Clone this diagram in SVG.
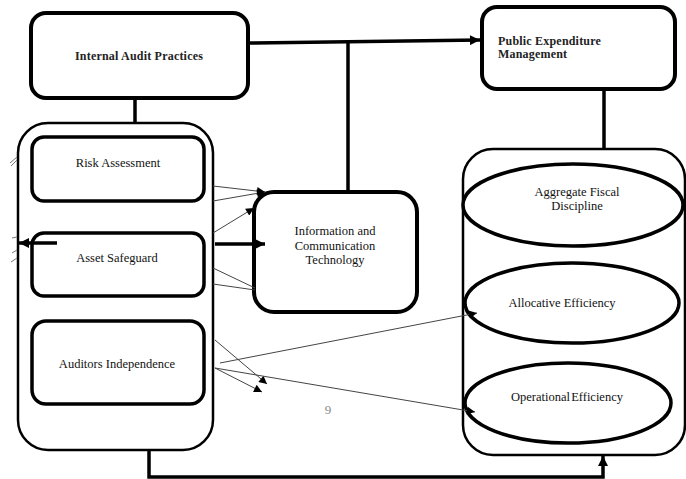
<svg xmlns="http://www.w3.org/2000/svg" width="686" height="479" viewBox="0 0 686 479">
<style>
.box{fill:#fff;stroke:#000;stroke-width:4}
.sub{fill:#fff;stroke:#000;stroke-width:3.5}
.cont{fill:#fff;stroke:#000;stroke-width:2.5}
.ell{fill:#fff;stroke:#000;stroke-width:3.5}
.t{font-family:'Liberation Serif','DejaVu Serif',serif;font-size:12.5px;fill:#111;text-anchor:middle}
.b{font-family:'Liberation Serif','DejaVu Serif',serif;font-size:12px;font-weight:bold;fill:#222;letter-spacing:0.2px}
.pg{font-family:'Liberation Serif','DejaVu Serif',serif;font-size:13px;fill:#888;text-anchor:middle}
.thick{fill:none;stroke:#000;stroke-width:3.5}
.thin{fill:none;stroke:#444;stroke-width:1}
.frag{fill:none;stroke:#777;stroke-width:1}
</style>
<defs>
<marker id="ah" viewBox="0 0 10 10" refX="10" refY="5" markerWidth="9" markerHeight="8" markerUnits="userSpaceOnUse" orient="auto"><path d="M0,0 L10,5 L0,10 z" fill="#000"/></marker>
<marker id="ahb" viewBox="0 0 10 10" refX="10" refY="5" markerWidth="11" markerHeight="10" markerUnits="userSpaceOnUse" orient="auto"><path d="M0,0 L10,5 L0,10 z" fill="#000"/></marker>
</defs>
<rect width="686" height="479" fill="#fff"/>
<g id="left-container"><rect class="cont" x="18" y="123" width="195" height="327" rx="30"/></g>
<g id="right-container"><rect class="cont" x="463" y="149" width="222" height="306" rx="30"/></g>
<g id="internal-audit"><rect class="box" x="31" y="13" width="217" height="85" rx="15"/><text class="b" x="139" y="60" text-anchor="middle">Internal Audit Practices</text></g>
<g id="pem"><rect class="box" x="482" y="7" width="193" height="82" rx="15"/><text class="b" x="498" y="45">Public Expenditure</text><text class="b" x="498" y="58">Management</text></g>
<g id="risk"><rect class="sub" x="32" y="137" width="172" height="64" rx="12"/><text class="t" x="118" y="167">Risk Assessment</text></g>
<g id="asset"><rect class="sub" x="32" y="233" width="172" height="63" rx="12"/><text class="t" x="117" y="262">Asset Safeguard</text></g>
<g id="auditors"><rect class="sub" x="32" y="321" width="172" height="83" rx="14"/><text class="t" x="117" y="368">Auditors Independence</text></g>
<g id="ict"><rect class="box" x="254" y="192" width="163" height="120" rx="20"/><text class="t" x="335" y="235">Information and</text><text class="t" x="335" y="250">Communication</text><text class="t" x="335" y="264">Technology</text></g>
<g id="afd"><ellipse class="ell" cx="573" cy="205" rx="110" ry="41"/><text class="t" x="577" y="196">Aggregate Fiscal</text><text class="t" x="577" y="210">Discipline</text></g>
<g id="ae"><ellipse class="ell" cx="572" cy="303" rx="107" ry="40"/><text class="t" x="562" y="307">Allocative Efficiency</text></g>
<g id="oe"><ellipse class="ell" cx="568" cy="403" rx="103" ry="40"/><text class="t" x="567" y="401" word-spacing="-2">Operational Efficiency</text></g>
<g id="connectors">
<path class="thick" d="M248,43 L480,40" marker-end="url(#ahb)"/>
<path class="thick" d="M348,42 L348,192"/>
<path class="thick" d="M135,98 L135,123"/>
<path class="thick" d="M604,89 L604,149"/>
<path class="thick" d="M149,450 L149,477 L603,477 L603,456" marker-end="url(#ahb)"/>
<path class="thick" d="M215,244 L265,244" marker-end="url(#ahb)"/>
<path class="thick" d="M57,243 L19,243" marker-end="url(#ahb)"/>
<path class="thin" d="M213,186 L265,192" marker-end="url(#ah)"/>
<path class="thin" d="M213,201 L265,192" marker-end="url(#ah)"/>
<path class="thin" d="M213,233 L254,208" marker-end="url(#ah)"/>
<path class="thin" d="M213,268 L255,288"/>
<path class="thin" d="M213,284 L255,290"/>
<path class="thin" d="M215,340 L267,384" marker-end="url(#ah)"/>
<path class="thin" d="M215,368 L262,392" marker-end="url(#ah)"/>
<path class="thin" d="M215,368 L475,412" marker-end="url(#ah)"/>
<path class="thin" d="M220,363 L477,313" marker-end="url(#ah)"/>
</g>
<g id="fragments">
<path class="frag" d="M10,163 L17,157 M11,166 L17,160 M12,238 L17,237 M12,253 L17,250 M11,262 L17,258"/>
</g>
<text class="pg" x="328" y="414">9</text>
</svg>
